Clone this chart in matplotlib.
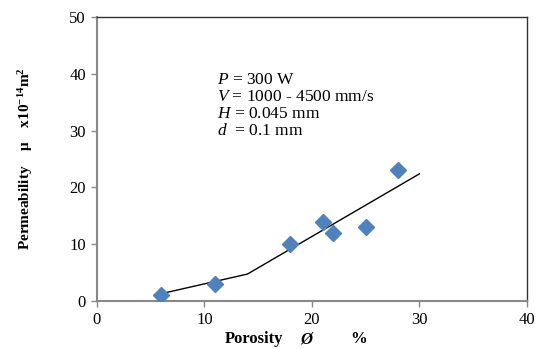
import numpy as np
import matplotlib.pyplot as plt

plt.rcParams['font.family'] = ['Liberation Serif', 'DejaVu Serif']
plt.rcParams['mathtext.fontset'] = 'custom'
plt.rcParams['mathtext.rm'] = 'Liberation Serif'
plt.rcParams['mathtext.it'] = 'Liberation Serif:italic'
plt.rcParams['mathtext.bf'] = 'Liberation Serif:bold'

# measured points
porosity = [6, 11, 18, 21, 22, 25, 28]
permeability = [1, 3, 10, 14, 12, 13, 23]

# fitted trend (piecewise)
fit_x = [6, 14, 30]
fit_y = [1.3, 4.75, 22.4]

fig = plt.figure(figsize=(5.43, 3.49), dpi=100)
ax = fig.add_axes([0.1786, 0.1375, 0.7919, 0.8135])

ax.plot(fit_x, fit_y, color='black', lw=1.0, zorder=2)
ax.plot(porosity, permeability, linestyle='none', marker='D', ms=8,
        color='#4F81BD', zorder=3)

ax.set_xlim(0, 40)
ax.set_ylim(0, 50)
ax.set_xticks([0, 10, 20, 30, 40])
ax.set_yticks([0, 10, 20, 30, 40, 50])
ax.tick_params(direction='out', length=4, width=1, color='#888888',
               labelsize=12, pad=4)

for side in ['left', 'bottom']:
    ax.spines[side].set_color('#888888')
    ax.spines[side].set_linewidth(1.5)
for side in ['top', 'right']:
    ax.spines[side].set_color('#333333')
    ax.spines[side].set_linewidth(1.0)

# x label: pieces placed separately (Ø in italic)
lab_y = -0.148
ax.text(0.298, lab_y, 'Porosity', transform=ax.transAxes, fontsize=12,
        fontweight='bold', ha='left', va='baseline')
ax.text(0.472, lab_y, 'Ø', transform=ax.transAxes, fontsize=12,
        fontweight='bold', fontstyle='italic', ha='left', va='baseline')
ax.text(0.588, lab_y, '%', transform=ax.transAxes, fontsize=12,
        fontweight='bold', ha='left', va='baseline')

ax.set_ylabel(r'Permeability    μ    x10$^{\mathbf{-14}}$m$^{\mathbf{2}}$',
              fontsize=11, fontweight='bold')
ax.yaxis.set_label_coords(-0.143, 0.5)

info = ('$\\it{P}$ = 300 W\n'
        '$\\it{V}$ = 1000 - 4500 mm/s\n'
        '$\\it{H}$ = 0.045 mm\n'
        '$\\it{d}$  = 0.1 mm')
ax.text(11.2, 40.4, info, fontsize=12.5, va='top', ha='left', linespacing=1.1)

plt.savefig('out.png', dpi=100)
